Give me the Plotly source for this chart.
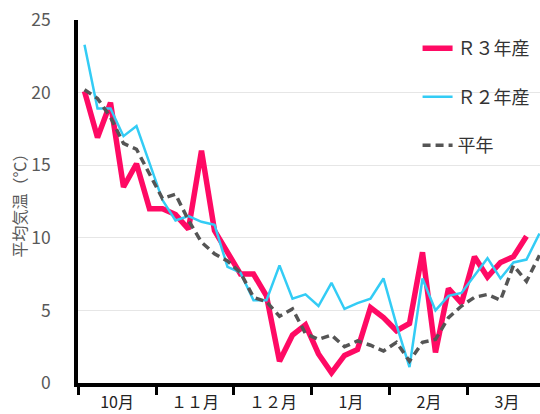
import plotly.graph_objects as go

# ~5-day periods, 6 per month, Oct..Mar
idx = list(range(36))
r3 = [20.1, 16.9, 19.3, 13.5, 15.1, 12.0, 12.0, 11.6, 10.6, 16.0, 10.5, 9.0,
      7.5, 7.5, 6.0, 1.5, 3.3, 4.0, 2.0, 0.7, 1.9, 2.3, 5.2, 4.5,
      3.6, 4.1, 9.0, 2.1, 6.5, 5.5, 8.7, 7.3, 8.3, 8.7, 10.1]
r2 = [23.3, 18.9, 18.9, 17.0, 17.7, 15.2, 12.6, 11.2, 11.5, 11.1, 10.9, 8.0,
      7.6, 5.7, 5.7, 8.1, 5.8, 6.1, 5.3, 6.9, 5.1, 5.5, 5.8, 7.2,
      4.0, 1.1, 7.2, 5.0, 6.0, 6.2, 7.4, 8.6, 7.2, 8.3, 8.5, 10.3]
normal = [20.2, 19.6, 18.3, 16.5, 16.1, 14.4, 12.7, 13.0, 11.2, 9.7, 8.9, 8.4,
          7.6, 5.9, 5.6, 4.6, 5.1, 3.4, 3.0, 3.3, 2.5, 2.9, 2.6, 2.2,
          2.8, 1.5, 2.8, 3.0, 4.5, 5.3, 5.9, 6.1, 5.7, 8.1, 7.0, 8.8]
month_labels = ["10月", "１１月", "１２月", "1月", "2月", "3月"]
month_centers = [2.5, 8.5, 14.5, 20.5, 26.5, 32.5]
series_names = ["Ｒ３年産", "Ｒ２年産", "平年"]

FONT = "Noto Sans CJK JP"

fig = go.Figure()
fig.add_trace(go.Scatter(x=idx[:len(r3)], y=r3, mode="lines", name=series_names[0],
                         legendgroup="a",
                         line=dict(color="#FF0A64", width=5.5)))
fig.add_trace(go.Scatter(x=idx, y=r2, mode="lines", name=series_names[1],
                         legendgroup="b",
                         line=dict(color="#33CCF5", width=2.5)))
fig.add_trace(go.Scatter(x=idx, y=normal, mode="lines", name=series_names[2],
                         legendgroup="c",
                         line=dict(color="#555555", width=3.5, dash="8px,5px")))

fig.update_layout(
    width=540, height=414,
    margin=dict(l=78, r=0, t=20, b=31, autoexpand=False),
    paper_bgcolor="white", plot_bgcolor="white",
    font=dict(family=FONT, color="#595959"),
    legend=dict(x=0.735, y=0.972, xanchor="left", yanchor="top",
                font=dict(size=18, color="#333333", family=FONT),
                bgcolor="rgba(0,0,0,0)", tracegroupgap=22,
                itemwidth=30),
    xaxis=dict(range=[-0.5, 35.04], showgrid=False, zeroline=False,
               tickmode="array", tickvals=month_centers, ticktext=month_labels,
               ticks="", ticklabelstandoff=2,
               tickfont=dict(size=16, color="#222222", family=FONT),
               showline=True, linecolor="black", linewidth=3.5,
               minor=dict(tickmode="array", tickvals=[-0.5, 5.5, 11.5, 17.5, 23.5, 29.5],
                          ticks="outside", ticklen=8, tickwidth=3, tickcolor="black",
                          showgrid=False)),
    yaxis=dict(range=[0, 25], tickvals=[0, 5, 10, 15, 20, 25],
               showgrid=True, gridcolor="#E6E6E6", gridwidth=1, zeroline=False,
               showline=True, linecolor="black", linewidth=3.5,
               ticks="", ticklabelstandoff=20,
               tickfont=dict(size=17.5, color="#595959", family=FONT),
               title=dict(text="平均気温（℃）", standoff=2,
                          font=dict(size=16, color="#595959", family=FONT))),
)

fig.write_html("out.html", config={"displayModeBar": False},
               post_script="document.body.style.margin='0';document.body.style.overflow='hidden';")
